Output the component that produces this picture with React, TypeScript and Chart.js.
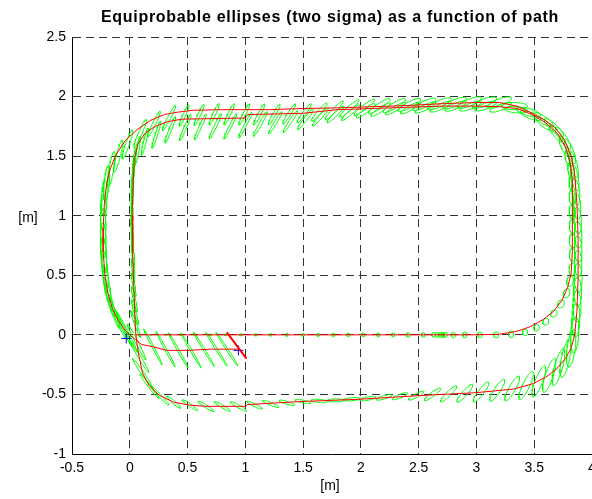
import React, { useEffect, useRef } from 'react';
import { Chart, registerables } from 'chart.js';

Chart.register(...registerables);

const TITLE = 'Equiprobable ellipses (two sigma) as a function of path';
const X_LABEL = '[m]';
const Y_LABEL = '[m]';

const X_MIN = -0.5;
const X_MAX = 4;
const Y_MIN = -1;
const Y_MAX = 2.5;
const TICK_STEP = 0.5;

// Red path: first (inner) loop, starting at the origin heading +x
const loop1X = [0.05, 0.5, 1.0, 1.5, 2.0, 2.5, 3.0, 3.2, 3.35, 3.47, 3.58, 3.67, 3.74, 3.79, 3.82, 3.83, 3.83, 3.83, 3.81, 3.77, 3.7, 3.6, 3.48, 3.35, 3.2, 3.0, 2.7, 2.4, 2.1, 1.8, 1.7, 1.5, 1.3, 1.02, 1.0, 0.7, 0.45, 0.33, 0.22, 0.13, 0.07, 0.04, 0.03, 0.02, 0.025, 0.035, 0.045, 0.05];
const loop1Y = [0, 0, 0, 0, 0, 0, 0, 0.005, 0.03, 0.07, 0.13, 0.2, 0.29, 0.4, 0.52, 0.7, 1.0, 1.3, 1.45, 1.58, 1.69, 1.78, 1.85, 1.9, 1.915, 1.92, 1.92, 1.91, 1.9, 1.89, 1.88, 1.86, 1.855, 1.85, 1.82, 1.815, 1.81, 1.79, 1.75, 1.69, 1.6, 1.48, 1.3, 1.0, 0.7, 0.4, 0.15, 0.03];

// Red path: second (outer) loop
const loop2X = [0.05, 0.06, 0.08, 0.11, 0.17, 0.26, 0.38, 0.52, 0.66, 0.95, 1.0, 1.02, 1.47, 2.0, 2.5, 3.0, 3.32, 3.49, 3.6, 3.69, 3.77, 3.82, 3.85, 3.87, 3.88, 3.88, 3.87, 3.85, 3.82, 3.76, 3.68, 3.58, 3.46, 3.35, 3.2, 3.0, 2.7, 2.4, 2.1, 1.8, 1.5, 1.2, 0.8, 0.55, 0.42, 0.3, 0.18, 0.06, -0.04, -0.12, -0.17, -0.2, -0.22, -0.23, -0.23, -0.215, -0.19, -0.15, -0.1, -0.05, 0.0];
const loop2Y = [0.03, -0.06, -0.18, -0.32, -0.43, -0.51, -0.565, -0.59, -0.6, -0.6, -0.6, -0.585, -0.56, -0.54, -0.51, -0.485, -0.455, -0.41, -0.355, -0.29, -0.2, -0.11, 0.0, 0.2, 0.5, 0.8, 1.1, 1.35, 1.5, 1.64, 1.74, 1.81, 1.87, 1.92, 1.95, 1.95, 1.94, 1.925, 1.915, 1.905, 1.9, 1.89, 1.89, 1.885, 1.87, 1.85, 1.8, 1.72, 1.63, 1.51, 1.39, 1.27, 1.1, 0.9, 0.7, 0.5, 0.35, 0.22, 0.12, 0.05, 0.0];

// Red path: final leg to the end pose
const finalX = [0.0, 0.05, 0.1, 0.2, 0.32, 0.5, 0.7, 0.84, 0.94];
const finalY = [0.0, -0.04, -0.08, -0.1, -0.13, -0.13, -0.12, -0.12, -0.12];

// Heading segment at the end pose (thick red)
const headingX = [0.84, 1.01];
const headingY = [0.02, -0.2];

// Blue markers: start and end pose
const markerX = [-0.03, 0.94];
const markerY = [-0.03, -0.13];

// Ellipses: [centre x, centre y, semi-axis a, semi-axis b, tilt of a in degrees]
type Ell = [number, number, number, number, number];

const ellLoop1Bottom: Ell[] = [
  [0.18, 0, 0.007, 0.003, 0], [0.31, 0, 0.007, 0.004, 0], [0.44, 0, 0.008, 0.005, 0],
  [0.57, 0, 0.008, 0.006, 0], [0.70, 0, 0.009, 0.007, 0], [0.83, 0, 0.009, 0.008, 0],
  [0.96, 0, 0.010, 0.009, 0], [1.09, 0, 0.010, 0.010, 0], [1.22, 0, 0.011, 0.011, 0],
  [1.36, 0, 0.011, 0.012, 0], [1.50, 0, 0.012, 0.012, 0], [1.63, 0, 0.012, 0.013, 0],
  [1.76, 0, 0.013, 0.014, 0], [1.89, 0, 0.013, 0.015, 0], [2.02, 0, 0.014, 0.016, 0],
  [2.15, 0, 0.014, 0.016, 0], [2.28, 0, 0.015, 0.017, 0], [2.41, 0, 0.016, 0.018, 0],
  [2.54, 0, 0.016, 0.019, 0], [2.63, 0, 0.017, 0.020, 0], [2.66, 0, 0.017, 0.020, 0],
  [2.69, 0, 0.017, 0.020, 0], [2.71, 0, 0.017, 0.021, 0], [2.73, 0, 0.018, 0.021, 0],
  [2.80, 0, 0.018, 0.022, 0], [2.90, 0, 0.019, 0.023, 0], [3.03, 0, 0.020, 0.024, 0],
  [3.17, 0, 0.021, 0.025, 0], [3.30, 0.005, 0.022, 0.027, 0],
];

const ellLoop1Right: Ell[] = [
  [3.42, 0.02, 0.026, 0.022, 80], [3.52, 0.06, 0.028, 0.023, 70], [3.60, 0.11, 0.030, 0.024, 55],
  [3.67, 0.18, 0.033, 0.025, 50], [3.73, 0.26, 0.036, 0.026, 55], [3.78, 0.35, 0.040, 0.027, 65],
  [3.81, 0.45, 0.045, 0.028, 75], [3.83, 0.55, 0.050, 0.029, 85],
  [3.83, 0.67, 0.055, 0.025, 90], [3.83, 0.79, 0.058, 0.026, 92], [3.83, 0.91, 0.060, 0.026, 92],
  [3.83, 1.03, 0.062, 0.027, 93], [3.83, 1.15, 0.064, 0.027, 95], [3.83, 1.27, 0.066, 0.028, 97],
  [3.82, 1.38, 0.068, 0.028, 100], [3.80, 1.48, 0.070, 0.030, 105],
  [3.76, 1.58, 0.080, 0.028, 115], [3.69, 1.69, 0.085, 0.028, 130], [3.59, 1.77, 0.090, 0.028, 145],
  [3.47, 1.84, 0.095, 0.027, 160], [3.34, 1.89, 0.100, 0.026, 175],
];

const ellLoop1Top: Ell[] = [
  [3.21, 1.91, 0.10, 0.025, 20], [3.08, 1.92, 0.10, 0.025, 20], [2.95, 1.92, 0.10, 0.024, 21],
  [2.82, 1.92, 0.10, 0.024, 22], [2.69, 1.915, 0.10, 0.023, 24], [2.56, 1.91, 0.10, 0.022, 26],
  [2.43, 1.905, 0.10, 0.021, 28], [2.30, 1.90, 0.10, 0.020, 30], [2.17, 1.89, 0.10, 0.019, 33],
  [2.04, 1.88, 0.10, 0.018, 36], [1.91, 1.865, 0.10, 0.017, 40], [1.78, 1.85, 0.10, 0.016, 44],
  [1.65, 1.83, 0.10, 0.015, 48], [1.52, 1.81, 0.11, 0.014, 52], [1.39, 1.79, 0.11, 0.013, 56],
  [1.26, 1.78, 0.11, 0.012, 58], [1.13, 1.77, 0.12, 0.012, 60], [1.00, 1.76, 0.12, 0.011, 62],
  [0.87, 1.75, 0.12, 0.011, 63], [0.74, 1.75, 0.12, 0.011, 64], [0.61, 1.745, 0.12, 0.011, 65],
  [0.48, 1.74, 0.12, 0.011, 66],
];

const ellLoop1Left: Ell[] = [
  [0.35, 1.72, 0.12, 0.011, 68], [0.23, 1.68, 0.12, 0.011, 72], [0.13, 1.62, 0.12, 0.011, 76],
  [0.07, 1.55, 0.12, 0.010, 80], [0.04, 1.46, 0.11, 0.010, 84], [0.03, 1.36, 0.10, 0.009, 88],
  [0.025, 1.25, 0.10, 0.009, 90], [0.02, 1.14, 0.10, 0.009, 90], [0.02, 1.02, 0.10, 0.009, 91],
  [0.02, 0.90, 0.10, 0.009, 92], [0.025, 0.78, 0.10, 0.009, 93], [0.03, 0.66, 0.10, 0.009, 95],
  [0.03, 0.54, 0.10, 0.009, 97], [0.035, 0.42, 0.10, 0.009, 100], [0.04, 0.30, 0.11, 0.009, 103],
  [0.045, 0.19, 0.11, 0.009, 106], [0.05, 0.09, 0.12, 0.009, 110],
];

const ellLoop2Bottom: Ell[] = [
  [0.06, -0.06, 0.17, 0.012, -62], [0.08, -0.18, 0.16, 0.012, -58], [0.11, -0.32, 0.15, 0.012, -55],
  [0.17, -0.43, 0.13, 0.012, -52], [0.26, -0.51, 0.11, 0.012, -46],
  [0.38, -0.565, 0.08, 0.012, -40], [0.52, -0.59, 0.08, 0.012, -34], [0.66, -0.60, 0.08, 0.012, -32],
  [0.80, -0.60, 0.08, 0.012, -30], [0.94, -0.60, 0.08, 0.012, -28], [1.08, -0.59, 0.075, 0.012, -25],
  [1.22, -0.58, 0.075, 0.012, -22], [1.36, -0.57, 0.07, 0.012, -17], [1.50, -0.56, 0.07, 0.012, -11],
  [1.64, -0.555, 0.07, 0.013, -5], [1.78, -0.55, 0.07, 0.013, 0], [1.92, -0.54, 0.07, 0.013, 5],
  [2.06, -0.535, 0.07, 0.014, 10], [2.20, -0.525, 0.07, 0.014, 16], [2.34, -0.515, 0.07, 0.015, 22],
  [2.48, -0.51, 0.075, 0.016, 28], [2.62, -0.50, 0.085, 0.018, 36], [2.76, -0.495, 0.095, 0.020, 44],
  [2.90, -0.49, 0.10, 0.022, 48], [3.04, -0.48, 0.105, 0.024, 52], [3.18, -0.465, 0.11, 0.026, 56],
  [3.31, -0.45, 0.12, 0.028, 60], [3.43, -0.425, 0.13, 0.030, 64], [3.54, -0.39, 0.14, 0.032, 68],
  [3.63, -0.34, 0.15, 0.034, 71], [3.71, -0.27, 0.16, 0.035, 74], [3.77, -0.20, 0.16, 0.035, 78],
  [3.82, -0.11, 0.16, 0.035, 82],
];

const ellLoop2Right: Ell[] = [
  [3.85, 0.00, 0.15, 0.035, 86], [3.86, 0.12, 0.14, 0.035, 88], [3.87, 0.24, 0.13, 0.035, 90],
  [3.875, 0.36, 0.12, 0.034, 91], [3.88, 0.48, 0.12, 0.034, 92], [3.88, 0.60, 0.11, 0.033, 92],
  [3.88, 0.72, 0.11, 0.033, 93], [3.88, 0.84, 0.11, 0.033, 93], [3.875, 0.96, 0.11, 0.033, 94],
  [3.87, 1.08, 0.11, 0.033, 95], [3.86, 1.20, 0.11, 0.033, 97], [3.85, 1.32, 0.11, 0.033, 100],
  [3.84, 1.43, 0.11, 0.032, 104],
  [3.81, 1.54, 0.11, 0.03, 112], [3.75, 1.65, 0.11, 0.03, 125], [3.67, 1.74, 0.11, 0.03, 138],
  [3.57, 1.81, 0.11, 0.03, 150], [3.45, 1.87, 0.11, 0.03, 165], [3.33, 1.92, 0.11, 0.03, 180],
];

const ellLoop2Top: Ell[] = [
  [3.20, 1.95, 0.11, 0.030, 20], [3.07, 1.95, 0.11, 0.030, 20], [2.94, 1.95, 0.11, 0.029, 21],
  [2.81, 1.945, 0.11, 0.028, 22], [2.68, 1.94, 0.11, 0.027, 23], [2.55, 1.935, 0.11, 0.026, 25],
  [2.42, 1.93, 0.11, 0.025, 27], [2.29, 1.925, 0.11, 0.024, 30], [2.16, 1.92, 0.11, 0.022, 33],
  [2.03, 1.91, 0.11, 0.020, 37], [1.90, 1.90, 0.11, 0.018, 41], [1.77, 1.885, 0.11, 0.017, 45],
  [1.64, 1.87, 0.10, 0.016, 49], [1.51, 1.86, 0.10, 0.015, 53], [1.38, 1.855, 0.10, 0.014, 57],
  [1.25, 1.85, 0.10, 0.013, 60], [1.12, 1.85, 0.10, 0.013, 62], [0.99, 1.85, 0.10, 0.012, 63],
  [0.86, 1.85, 0.10, 0.012, 64], [0.73, 1.85, 0.10, 0.012, 65], [0.60, 1.845, 0.10, 0.012, 65],
  [0.47, 1.84, 0.10, 0.012, 65],
];

const ellLoop2Left: Ell[] = [
  [0.34, 1.82, 0.12, 0.013, 62], [0.21, 1.77, 0.12, 0.014, 64], [0.09, 1.69, 0.13, 0.015, 66],
  [-0.02, 1.60, 0.13, 0.016, 70], [-0.10, 1.50, 0.14, 0.018, 75], [-0.16, 1.39, 0.15, 0.020, 80],
  [-0.20, 1.27, 0.15, 0.022, 84], [-0.22, 1.15, 0.15, 0.024, 87], [-0.23, 1.03, 0.15, 0.025, 89],
  [-0.23, 0.91, 0.15, 0.025, 90], [-0.23, 0.79, 0.15, 0.025, 91], [-0.225, 0.67, 0.15, 0.025, 93],
  [-0.215, 0.55, 0.16, 0.024, 96], [-0.20, 0.43, 0.16, 0.022, 100], [-0.18, 0.32, 0.17, 0.020, 105],
  [-0.15, 0.22, 0.18, 0.017, 110], [-0.11, 0.14, 0.19, 0.015, 114], [-0.07, 0.08, 0.20, 0.013, 117],
  [-0.03, 0.03, 0.20, 0.012, 118],
];

const ellFinal: Ell[] = [
  [0.20, -0.10, 0.17, 0.008, -62], [0.31, -0.12, 0.17, 0.008, -61], [0.42, -0.13, 0.17, 0.008, -60],
  [0.53, -0.13, 0.17, 0.008, -59], [0.64, -0.12, 0.17, 0.008, -58], [0.75, -0.12, 0.17, 0.008, -57],
  [0.84, -0.12, 0.17, 0.008, -56],
];

const ELLIPSE_GROUPS = [ellLoop1Bottom, ellLoop1Right, ellLoop1Top, ellLoop1Left, ellLoop2Bottom, ellLoop2Right, ellLoop2Top, ellLoop2Left, ellFinal];

const zip = (xs: number[], ys: number[]) => xs.map((x, i) => ({ x, y: ys[i] }));

function outline(e: Ell) {
  const [cx, cy, a, b, deg] = e;
  const th = (deg * Math.PI) / 180;
  const pts: { x: number; y: number }[] = [];
  const n = 40;
  for (let k = 0; k <= n; k++) {
    const t = (2 * Math.PI * k) / n;
    const u = a * Math.cos(t);
    const v = b * Math.sin(t);
    pts.push({ x: cx + u * Math.cos(th) - v * Math.sin(th), y: cy + u * Math.sin(th) + v * Math.cos(th) });
  }
  return pts;
}

const FONT = "'Liberation Sans', Arial, Helvetica, sans-serif";

const fmtTick = (v: number | string) => String(Math.round(Number(v) * 10) / 10);

const textPlugin = {
  id: 'figureTexts',
  afterDraw(chart: any) {
    const ctx = chart.ctx as CanvasRenderingContext2D;
    const area = chart.chartArea;
    ctx.save();
    ctx.fillStyle = '#000';
    ctx.textAlign = 'center';
    ctx.textBaseline = 'middle';
    ctx.font = `bold 16px ${FONT}`;
    (ctx as any).letterSpacing = '0.7px';
    ctx.fillText(TITLE, 330, 18);
    (ctx as any).letterSpacing = '0px';
    ctx.font = `14px ${FONT}`;
    ctx.fillText(Y_LABEL, 28, (area.top + area.bottom) / 2 - 27);
    ctx.fillText(X_LABEL, 330, 486);
    ctx.restore();
  },
};

export default function App() {
  const ref = useRef<HTMLCanvasElement>(null);

  useEffect(() => {
    const canvas = ref.current;
    if (!canvas) return;

    const datasets: any[] = [];
    const red = { showLine: true, borderColor: '#ff0000', borderWidth: 1, pointRadius: 0, tension: 0, order: 0 };
    datasets.push({ ...red, data: zip(loop1X, loop1Y) });
    datasets.push({ ...red, data: zip(loop2X, loop2Y) });
    datasets.push({ ...red, data: zip(finalX, finalY) });
    datasets.push({ ...red, borderWidth: 2, data: zip(headingX, headingY) });
    datasets.push({
      data: zip(markerX, markerY), showLine: false, pointStyle: 'cross', pointRadius: 5,
      borderColor: '#0000ff', backgroundColor: '#0000ff', pointBorderColor: '#0000ff', pointBorderWidth: 1, order: 0,
    });
    ELLIPSE_GROUPS.forEach((g) =>
      g.forEach((e) =>
        datasets.push({ data: outline(e), showLine: true, borderColor: '#00ff00', borderWidth: 1, pointRadius: 0, tension: 0, order: 1 })
      )
    );

    const tickFont = { family: FONT, size: 14 };
    const chart = new Chart(canvas, {
      type: 'scatter',
      data: { datasets },
      plugins: [textPlugin],
      options: {
        animation: false,
        responsive: false,
        devicePixelRatio: 1,
        events: [],
        layout: { autoPadding: false, padding: { top: 37, left: 0, right: 0, bottom: 0 } },
        plugins: { legend: { display: false }, tooltip: { enabled: false }, title: { display: false } },
        elements: { point: { radius: 0 } },
        scales: {
          x: {
            type: 'linear', position: 'bottom', min: X_MIN, max: X_MAX,
            ticks: { stepSize: TICK_STEP, autoSkip: false, maxRotation: 0, padding: 6, color: '#000', font: tickFont, callback: fmtTick },
            grid: { color: '#333', lineWidth: 1, drawTicks: false },
            border: { display: true, color: '#000', width: 1, dash: [8, 5] },
            afterFit: (s: any) => { s.height = 45; s.paddingLeft = 0; s.paddingRight = 0; },
          },
          y: {
            type: 'linear', position: 'left', min: Y_MIN, max: Y_MAX,
            ticks: { stepSize: TICK_STEP, autoSkip: false, padding: 6, color: '#000', font: tickFont, callback: fmtTick },
            grid: { color: '#333', lineWidth: 1, drawTicks: false },
            border: { display: true, color: '#000', width: 1, dash: [8, 5] },
            afterFit: (s: any) => { s.width = 72; s.paddingTop = 0; s.paddingBottom = 0; },
          },
        },
      } as any,
    });
    return () => chart.destroy();
  }, []);

  return (
    <div style={{ position: 'absolute', left: 0, top: 0, width: 592, height: 499, background: '#fff' }}>
      <canvas ref={ref} width={592} height={499} style={{ display: 'block', width: 592, height: 499 }} />
    </div>
  );
}
